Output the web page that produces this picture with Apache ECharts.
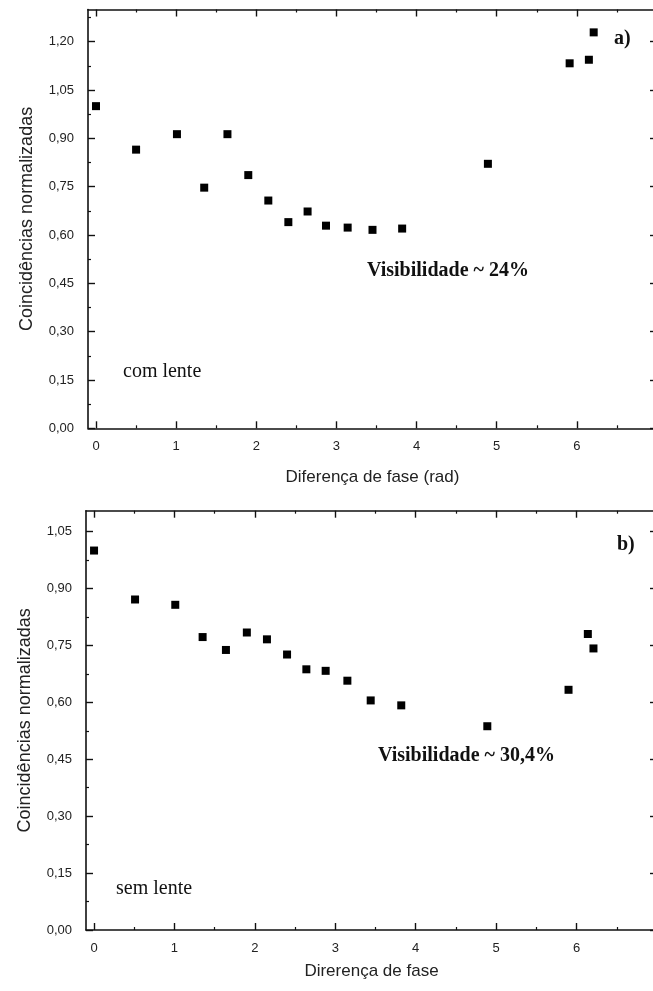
<!DOCTYPE html>
<html>
<head>
<meta charset="utf-8">
<script src="https://cdn.jsdelivr.net/npm/echarts@6/dist/echarts.min.js"></script>
<style>
  html, body { margin: 0; padding: 0; background: #fff; overflow: hidden; }
  #chart { width: 665px; height: 991px; }
</style>
</head>
<body>
<div id="chart"></div>
<script>
// Phase difference (rad) and normalised coincidences, with lens (a)
const phaseA = [0, 0.50, 1.01, 1.35, 1.64, 1.90, 2.15, 2.40, 2.64, 2.87, 3.14, 3.45, 3.82, 4.89, 5.91, 6.15, 6.21];
const coincA = [1.00, 0.865, 0.913, 0.747, 0.913, 0.786, 0.707, 0.640, 0.673, 0.629, 0.623, 0.616, 0.620, 0.821, 1.133, 1.144, 1.229];

// Same measurement without lens (b)
const phaseB = [0, 0.51, 1.01, 1.35, 1.64, 1.90, 2.15, 2.40, 2.64, 2.88, 3.15, 3.44, 3.82, 4.89, 5.90, 6.14, 6.21];
const coincB = [1.00, 0.871, 0.857, 0.772, 0.738, 0.784, 0.766, 0.726, 0.687, 0.683, 0.657, 0.605, 0.592, 0.537, 0.633, 0.780, 0.742];

// Tick positions
const xMajor = [0, 1, 2, 3, 4, 5, 6, 7];
const xMinor = [0.5, 1.5, 2.5, 3.5, 4.5, 5.5, 6.5];
const yMajorA = [0, 0.15, 0.30, 0.45, 0.60, 0.75, 0.90, 1.05, 1.20];
const yMinorA = [0.075, 0.225, 0.375, 0.525, 0.675, 0.825, 0.975, 1.125, 1.275];
const yMajorB = [0, 0.15, 0.30, 0.45, 0.60, 0.75, 0.90, 1.05];
const yMinorB = [0.075, 0.225, 0.375, 0.525, 0.675, 0.825, 0.975];

const xTitleA = 'Diferença de fase (rad)';
const xTitleB = 'Direrença de fase';
const yTitle = 'Coincidências normalizadas';

const INK = '#111';
const SANS = '"Liberation Sans", Arial, sans-serif';
const SERIF = '"Liberation Serif", "Times New Roman", serif';

const fmtComma = v => v.toFixed(2).replace('.', ',');

function xAxes(gi, min, max, name, nameGap) {
  const base = { type: 'value', gridIndex: gi, min, max, splitLine: { show: false } };
  const line = { show: true, onZero: false, lineStyle: { color: INK, width: 1.6 } };
  const noLine = { show: false, onZero: false };
  const major = { show: true, inside: true, length: 7, customValues: xMajor, lineStyle: { color: INK, width: 1.4 } };
  const minor = { show: true, inside: true, length: 3, customValues: xMinor, lineStyle: { color: INK, width: 1.2 } };
  return [
    Object.assign({}, base, {
      position: 'bottom', axisLine: line, axisTick: major,
      axisLabel: { customValues: xMajor, margin: 12, fontSize: 13, color: '#222', fontFamily: SANS },
      name, nameLocation: 'middle', nameGap,
      nameTextStyle: { fontSize: 17, color: '#222', fontFamily: SANS }
    }),
    Object.assign({}, base, { position: 'bottom', axisLine: noLine, axisTick: minor, axisLabel: { show: false } }),
    Object.assign({}, base, { position: 'top', axisLine: line, axisTick: major, axisLabel: { show: false } }),
    Object.assign({}, base, { position: 'top', axisLine: noLine, axisTick: minor, axisLabel: { show: false } })
  ];
}

function yAxes(gi, max, majors, minors) {
  const base = { type: 'value', gridIndex: gi, min: 0, max, splitLine: { show: false } };
  const line = { show: true, onZero: false, lineStyle: { color: INK, width: 1.6 } };
  const noLine = { show: false, onZero: false };
  const major = { show: true, inside: true, length: 7, customValues: majors, lineStyle: { color: INK, width: 1.4 } };
  const minor = { show: true, inside: true, length: 3, customValues: minors, lineStyle: { color: INK, width: 1.2 } };
  return [
    Object.assign({}, base, {
      position: 'left', axisLine: line, axisTick: major,
      axisLabel: { customValues: majors, formatter: fmtComma, margin: 14, fontSize: 13, color: '#222', fontFamily: SANS },
      name: yTitle, nameLocation: 'middle', nameGap: 52,
      nameTextStyle: { fontSize: 18, color: '#222', fontFamily: SANS }
    }),
    Object.assign({}, base, { position: 'left', axisLine: noLine, axisTick: minor, axisLabel: { show: false } }),
    Object.assign({}, base, { position: 'right', axisLine: line, axisTick: major, axisLabel: { show: false } }),
    Object.assign({}, base, { position: 'right', axisLine: noLine, axisTick: minor, axisLabel: { show: false } })
  ];
}

const pairs = (xs, ys) => xs.map((x, i) => [x, ys[i]]);

function note(text, x, y, size, bold) {
  return {
    type: 'text', x, y, silent: true,
    style: {
      text, fill: '#111',
      font: (bold ? 'bold ' : '') + size + 'px ' + SERIF,
      textAlign: 'left', textVerticalAlign: 'middle',
      align: 'left', verticalAlign: 'middle'
    }
  };
}

const chart = echarts.init(document.getElementById('chart'), null, { renderer: 'canvas' });

chart.setOption({
  animation: false,
  backgroundColor: '#fff',
  grid: [
    { left: 88, top: 9.5, width: 569, height: 418.8 },
    { left: 86, top: 510.7, width: 571, height: 419.3 }
  ],
  xAxis: [].concat(
    xAxes(0, -0.1, 7, xTitleA, 41),
    xAxes(1, -0.1, 7, xTitleB, 33)
  ),
  yAxis: [].concat(
    yAxes(0, 1.30, yMajorA, yMinorA),
    yAxes(1, 1.105, yMajorB, yMinorB)
  ),
  series: [
    {
      type: 'scatter', xAxisIndex: 0, yAxisIndex: 0,
      symbol: 'rect', symbolSize: 8,
      itemStyle: { color: '#000', opacity: 1 },
      data: pairs(phaseA, coincA)
    },
    {
      type: 'scatter', xAxisIndex: 4, yAxisIndex: 4,
      symbol: 'rect', symbolSize: 8,
      itemStyle: { color: '#000', opacity: 1 },
      data: pairs(phaseB, coincB)
    }
  ],
  graphic: [
    note('a)', 614, 39, 20, true),
    note('Visibilidade ~ 24%', 367, 271, 20, true),
    note('com lente', 123, 372, 20, false),
    note('b)', 617, 545, 20, true),
    note('Visibilidade ~ 30,4%', 378, 756, 20, true),
    note('sem lente', 116, 889, 20, false)
  ]
});
</script>
</body>
</html>
